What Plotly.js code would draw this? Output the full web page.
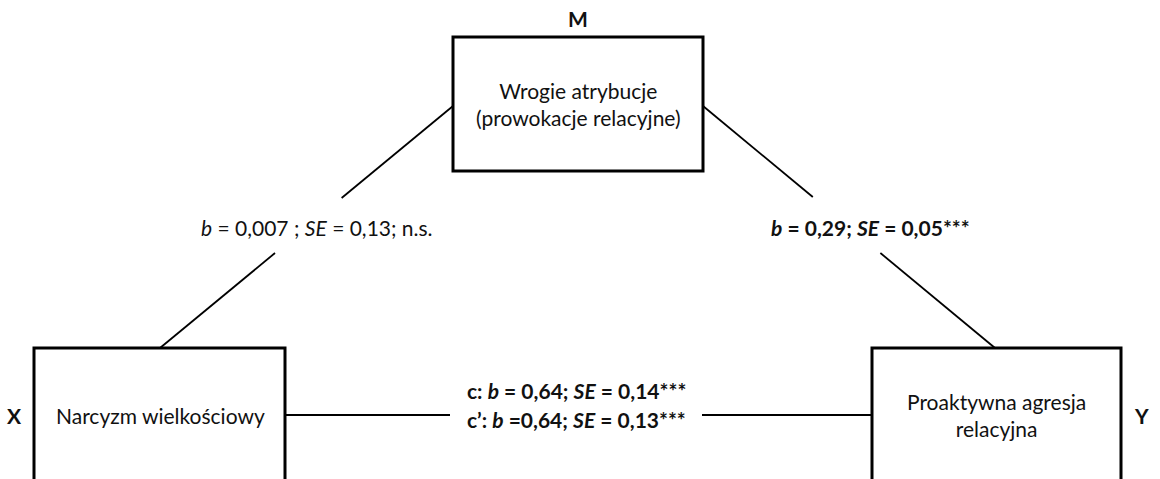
<!DOCTYPE html>
<html>
<head>
<meta charset="utf-8">
<script src="https://cdn.plot.ly/plotly-3.0.1.min.js"></script>
<style>html,body{margin:0;padding:0;background:#fff;}#chart{width:1160px;height:479px;}</style>
</head>
<body>
<div id="chart"></div>
<script>
// ---- data ----
const nodeRoles = ['X', 'M', 'Y'];
const nodeLabels = ['Narcyzm wielkościowy', 'Wrogie atrybucje<br>(prowokacje relacyjne)', 'Proaktywna agresja<br>relacyjna'];
const pathNames = ['a', 'b', 'c', 'c’'];
const pathB = ['0,007', '0,29', '0,64', '0,64'];
const pathSE = ['0,13', '0,05', '0,14', '0,13'];
const pathSig = ['; n.s.', '***', '***', '***'];

// ---- layout geometry (pixels in a 1160x479 canvas) ----
const boxes = [
  {x0: 34, x1: 285, y0: 348, y1: 560, cx: 160, cy: 415, rx: 14, ry: 415},   // X
  {x0: 453, x1: 703, y0: 37, y1: 171, cx: 578, cy: 104, rx: 578, ry: 18},   // M
  {x0: 872, x1: 1121, y0: 348, y1: 560, cx: 996, cy: 415, rx: 1141, ry: 415} // Y
];
const FONT = 'Lato, "Open Sans", "DejaVu Sans", sans-serif';
const FS = 21;

// path label texts
const labA = '<i>b</i> = ' + pathB[0] + ' ; <i>SE</i> = ' + pathSE[0] + pathSig[0];
const labB = '<b><i>b</i> = ' + pathB[1] + '; <i>SE</i> = ' + pathSE[1] + pathSig[1] + '</b>';
const labC = '<b>' + pathNames[2] + ': <i>b</i> = ' + pathB[2] + '; <i>SE</i> = ' + pathSE[2] + pathSig[2] + '</b>';
const labC2 = '<b>' + pathNames[3] + ': <i>b</i> =' + pathB[3] + '; <i>SE</i> = ' + pathSE[3] + pathSig[3] + '</b>';

// connector segments (split around labels)
function seg(p, q) { return {x: [p[0], q[0]], y: [p[1], q[1]]}; }
function lerp(p, q, t) { return [p[0] + (q[0] - p[0]) * t, p[1] + (q[1] - p[1]) * t]; }
const aStart = [160, 348], aEnd = [453, 106];
const bStart = [703, 106], bEnd = [995, 348];
const tA1 = (348 - 253) / 242, tA2 = (348 - 198) / 242;
const tB1 = (197 - 106) / 242, tB2 = (253 - 106) / 242;
const segments = [
  seg(aStart, lerp(aStart, aEnd, tA1)),
  seg(lerp(aStart, aEnd, tA2), aEnd),
  seg(bStart, lerp(bStart, bEnd, tB1)),
  seg(lerp(bStart, bEnd, tB2), bEnd),
  seg([285, 415], [450, 415]),
  seg([702, 415], [872, 415])
];

const traces = segments.map(s => ({
  type: 'scatter', mode: 'lines', x: s.x, y: s.y,
  line: {color: '#000', width: 1.8}, hoverinfo: 'skip', showlegend: false
}));

const shapes = boxes.map(b => ({
  type: 'rect', xref: 'x', yref: 'y', x0: b.x0, x1: b.x1, y0: b.y0, y1: b.y1,
  line: {color: '#000', width: 3}, fillcolor: 'rgba(0,0,0,0)'
}));

const ann = [];
boxes.forEach((b, i) => {
  ann.push({x: b.cx, y: b.cy, xref: 'x', yref: 'y', text: nodeLabels[i], showarrow: false,
    font: {family: FONT, size: FS, color: '#111'}, align: 'center'});
  ann.push({x: b.rx, y: b.ry, xref: 'x', yref: 'y', text: '<b>' + nodeRoles[i] + '</b>', showarrow: false,
    font: {family: FONT, size: FS, color: '#111'}});
});
ann.push({x: 317, y: 227, xref: 'x', yref: 'y', text: labA, showarrow: false, font: {family: FONT, size: FS, color: '#111'}});
ann.push({x: 870, y: 227, xref: 'x', yref: 'y', text: labB, showarrow: false, font: {family: FONT, size: FS, color: '#111'}});
ann.push({x: 576, y: 390, xref: 'x', yref: 'y', text: labC, showarrow: false, font: {family: FONT, size: FS, color: '#111'}});
ann.push({x: 576, y: 419, xref: 'x', yref: 'y', text: labC2, showarrow: false, font: {family: FONT, size: FS, color: '#111'}});

const layout = {
  width: 1160, height: 479,
  margin: {l: 0, r: 0, t: 0, b: 0, pad: 0},
  paper_bgcolor: '#fff', plot_bgcolor: '#fff',
  xaxis: {range: [0, 1160], visible: false, fixedrange: true},
  yaxis: {range: [479, 0], visible: false, fixedrange: true},
  shapes: shapes, annotations: ann, showlegend: false
};
Plotly.newPlot('chart', traces, layout, {displayModeBar: false, staticPlot: true});
</script>
</body>
</html>
